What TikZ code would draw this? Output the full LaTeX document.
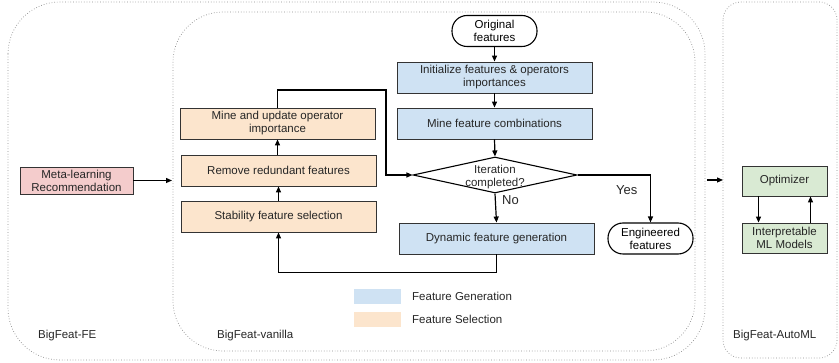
\documentclass[tikz,border=0pt]{standalone}
\usepackage{fontspec}
\setmainfont{Liberation Sans}
\usetikzlibrary{shapes.geometric,arrows.meta,calc}
\definecolor{fgblue}{HTML}{CFE2F3}
\definecolor{fsorange}{HTML}{FCE5CD}
\definecolor{mlpink}{HTML}{F4CCCC}
\definecolor{amgreen}{HTML}{D9EAD3}
\definecolor{bord}{HTML}{333333}
\definecolor{cont}{HTML}{8A8A8A}
\begin{document}
\begin{tikzpicture}[x=1pt,y=-1pt,
  font=\fontsize{11.5}{13}\selectfont,
  box/.style={draw=bord,line width=0.9pt,minimum height=31pt,align=center,inner sep=1pt,text=black!85},
  bluebox/.style={box,fill=fgblue,minimum width=195pt},
  orangebox/.style={box,fill=fsorange,minimum width=195pt},
  term/.style={draw=black,line width=1.1pt,rounded corners=15pt,minimum height=31pt,align=center,inner sep=1pt},
  arr/.style={draw=black,line width=1.2pt,-{Triangle[length=6pt,width=5pt]}},
  container/.style={draw=cont,dotted,line width=0.7pt},
  lbl/.style={anchor=west,inner sep=0pt,text=black!85}]
\useasboundingbox (0,0) rectangle (839,363);
% containers
\draw[container,rounded corners=52pt] (8,2) rectangle (705,360);
\draw[container,rounded corners=50pt] (173,12) rectangle (695,351);
\draw[container,rounded corners=18pt] (723,2) rectangle (837,358);
\node[lbl] (lfe) at (38,336) {BigFeat-FE};
\node[lbl] (lvan) at (217,336) {BigFeat-vanilla};
\node[lbl] (laml) at (733,336) {BigFeat-AutoML};
% meta-learning
\node[box,fill=mlpink,minimum width=113pt,minimum height=27pt] (meta) at (76.5,180.5) {Meta-learning\\Recommendation};
\coordinate (vanin) at (172,180.5);
\draw[arr] (meta.east) -- (vanin);
% feature selection column
\node[orangebox] (mine) at (277.5,123.5) {Mine and update operator\\importance};
\node[orangebox] (remove) at (278.5,170.5) {Remove redundant features};
\node[orangebox] (stab) at (278.5,216.5) {Stability feature selection};
\draw[arr] (stab.north) -- (remove.south);
\draw[arr] ([xshift=-1pt]remove.north) -- ([xshift=0pt]mine.south);
% feature generation column
\node[term,minimum width=85pt] (orig) at (494.5,31) {Original\\features};
\node[bluebox] (init) at (494.5,77.5) {Initialize features \& operators\\importances};
\node[bluebox] (comb) at (494.5,123.5) {Mine feature combinations};
\node[draw=black,line width=1.1pt,diamond,minimum width=164pt,minimum height=36pt,inner sep=0pt] (dia) at (495,175) {};
\node[align=center,inner sep=0pt,text=black!85] (diat) at (495,177) {Iteration\\completed?};
\node[bluebox] (dyn) at (496.5,238.5) {Dynamic feature generation};
\node[term,minimum width=85pt] (eng) at (650.5,238.5) {Engineered\\features};
\draw[arr] (orig.south) -- (init.north);
\draw[arr] (init.south) -- (comb.north);
\draw[arr] (comb.south) -- (dia.north);
\draw[arr] (dia.south) -- (dyn.north);
\draw[arr] (dia.east) -| (eng.north);
\coordinate (loopc) at (386,90);
\draw[arr] (mine.north) |- (loopc) |- (dia.west);
\draw[arr] (dyn.south) -- ++(0,18) -| (stab.south);
\node[lbl,font=\fontsize{13}{15}\selectfont] (yes) at (616,190) {Yes};
\node[lbl,font=\fontsize{13}{15}\selectfont] (no) at (502,200) {No};
% legend
\node[fill=fgblue,minimum width=47pt,minimum height=15pt,inner sep=0pt] (lg1) at (377.5,296.5) {};
\node[fill=fsorange,minimum width=47pt,minimum height=15pt,inner sep=0pt] (lg2) at (377.5,319.5) {};
\node[lbl] (lt1) at (412,296.5) {Feature Generation};
\node[lbl] (lt2) at (412,319.5) {Feature Selection};
% AutoML
\coordinate (fe_out) at (707,180);
\coordinate (aml_in) at (723,180);
\draw[arr] (fe_out) -- (aml_in);
\node[box,fill=amgreen,minimum width=85pt,minimum height=30pt] (opt) at (784.5,181) {Optimizer};
\node[box,fill=amgreen,minimum width=85pt,minimum height=30pt] (interp) at (784.5,238) {Interpretable\\ML Models};
\draw[arr] ([xshift=-26pt]opt.south) -- ([xshift=-26pt]interp.north);
\draw[arr] ([xshift=26pt]interp.north) -- ([xshift=26pt]opt.south);
\end{tikzpicture}
\end{document}
